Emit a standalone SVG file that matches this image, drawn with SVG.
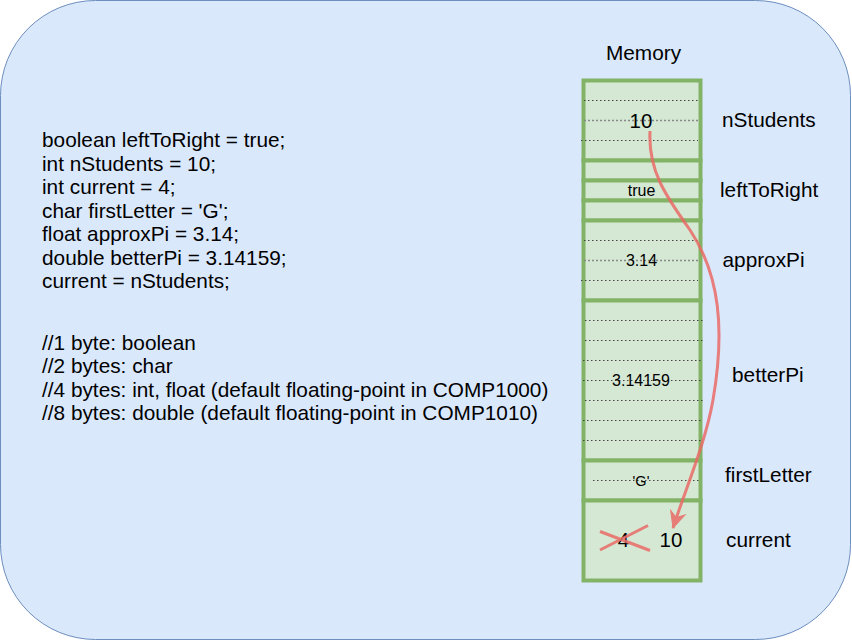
<svg xmlns="http://www.w3.org/2000/svg" width="852" height="642" viewBox="0 0 852 642">
<defs>
<style>
.t{font-family:"Liberation Sans",Arial,Helvetica,sans-serif;fill:#000}
.code{font-size:20.8px}
.lbl{font-size:20.8px}
.cell{fill:#d5e8d4;stroke:#82b366;stroke-width:4}
.dot{stroke:#444;stroke-width:1;stroke-dasharray:1.5 2.5;fill:none}
.dotg{stroke:#888;stroke-width:1.5;stroke-dasharray:2 2;fill:none}
.red{stroke:#ea6b66;stroke-width:3;fill:none}
</style>
<marker id="arr" viewBox="-18 -9 20 18" refX="0" refY="0" markerWidth="20" markerHeight="18" markerUnits="userSpaceOnUse" orient="auto">
<path d="M0,0 L-16,-7.5 L-11,0 L-16,7.5 Z" fill="#ea6b66" stroke="#ea6b66" stroke-width="1"/>
</marker>
</defs>
<g id="background">
<rect x="0.5" y="0.5" width="850" height="639" rx="95" ry="95" fill="#dae8fc" stroke="#6c8ebf" stroke-width="1"/>
</g>
<g id="code">
<text class="t code" x="42" y="147">boolean leftToRight = true;</text>
<text class="t code" x="42" y="170.5">int nStudents = 10;</text>
<text class="t code" x="42" y="194">int current = 4;</text>
<text class="t code" x="42" y="217.5">char firstLetter = 'G';</text>
<text class="t code" x="42" y="241">float approxPi = 3.14;</text>
<text class="t code" x="42" y="264.5">double betterPi = 3.14159;</text>
<text class="t code" x="42" y="288">current = nStudents;</text>
<text class="t code" x="42" y="350">//1 byte: boolean</text>
<text class="t code" x="42" y="373.3">//2 bytes: char</text>
<text class="t code" x="42" y="396.7">//4 bytes: int, float (default floating-point in COMP1000)</text>
<text class="t code" x="42" y="420">//8 bytes: double (default floating-point in COMP1010)</text>
</g>
<g id="memory-title">
<text class="t lbl" x="643.5" y="59.5" text-anchor="middle">Memory</text>
</g>
<g id="nStudents">
<rect class="cell" x="583.5" y="80.5" width="117" height="80"/>
<line class="dot" x1="584" y1="100.5" x2="700" y2="100.5"/>
<line class="dotg" x1="584" y1="120.5" x2="700" y2="120.5"/>
<line class="dot" x1="581" y1="140.5" x2="698" y2="140.5"/>
<text class="t" x="641" y="127.5" font-size="20.5" text-anchor="middle">10</text>
<text class="t lbl" x="722" y="126.7">nStudents</text>
</g>
<g id="padding1">
<rect class="cell" x="583.5" y="160.5" width="117" height="20"/>
</g>
<g id="leftToRight">
<rect class="cell" x="583.5" y="180.5" width="117" height="20"/>
<text class="t" x="641.5" y="196" font-size="16" text-anchor="middle">true</text>
<text class="t lbl" x="720" y="196.7">leftToRight</text>
</g>
<g id="padding2">
<rect class="cell" x="583.5" y="200.5" width="117" height="20"/>
</g>
<g id="approxPi">
<rect class="cell" x="583.5" y="220.5" width="117" height="80"/>
<line class="dot" x1="584" y1="240.5" x2="700" y2="240.5"/>
<line class="dotg" x1="584" y1="260.5" x2="700" y2="260.5"/>
<line class="dot" x1="581" y1="280.5" x2="698" y2="280.5"/>
<text class="t" x="641.5" y="266" font-size="16" text-anchor="middle">3.14</text>
<text class="t lbl" x="722.5" y="266.7">approxPi</text>
</g>
<g id="betterPi">
<rect class="cell" x="583.5" y="300.5" width="117" height="160"/>
<line class="dot" x1="585" y1="320.5" x2="703" y2="320.5"/>
<line class="dot" x1="585" y1="340.5" x2="703" y2="340.5"/>
<line class="dot" x1="583" y1="360.5" x2="701" y2="360.5"/>
<line class="dot" x1="583" y1="380.5" x2="703" y2="380.5"/>
<line class="dot" x1="585" y1="400.5" x2="703" y2="400.5"/>
<line class="dot" x1="583" y1="420.5" x2="701" y2="420.5"/>
<line class="dot" x1="583" y1="440.5" x2="701" y2="440.5"/>
<text class="t" x="641" y="386" font-size="16" text-anchor="middle">3.14159</text>
<text class="t lbl" x="732" y="381.7">betterPi</text>
</g>
<g id="firstLetter">
<rect class="cell" x="583.5" y="460.5" width="117" height="40"/>
<line class="dot" x1="593" y1="480.5" x2="700" y2="480.5"/>
<text class="t" x="641" y="485.5" font-size="14.5" text-anchor="middle">'G'</text>
<text class="t lbl" x="725" y="481.7">firstLetter</text>
</g>
<g id="current">
<rect class="cell" x="583.5" y="500.5" width="117" height="80"/>
<text class="t" x="623.5" y="546.7" font-size="20.5" text-anchor="middle">4</text>
<text class="t" x="671" y="546.7" font-size="20.5" text-anchor="middle">10</text>
<g opacity="0.85">
<line class="red" x1="600" y1="531.5" x2="650" y2="550.5" stroke-width="2"/>
<line class="red" x1="600" y1="550" x2="648" y2="525.5" stroke-width="2"/>
</g>
<text class="t lbl" x="726" y="546.7">current</text>
</g>
<g id="connectors">
<g opacity="0.85">
<path class="red" d="M650,131 C648,170 665,195 690,230 C720,275 725,330 713,400 C705,445 685,490 673,528" marker-end="url(#arr)"/>
</g>
</g>
</svg>
